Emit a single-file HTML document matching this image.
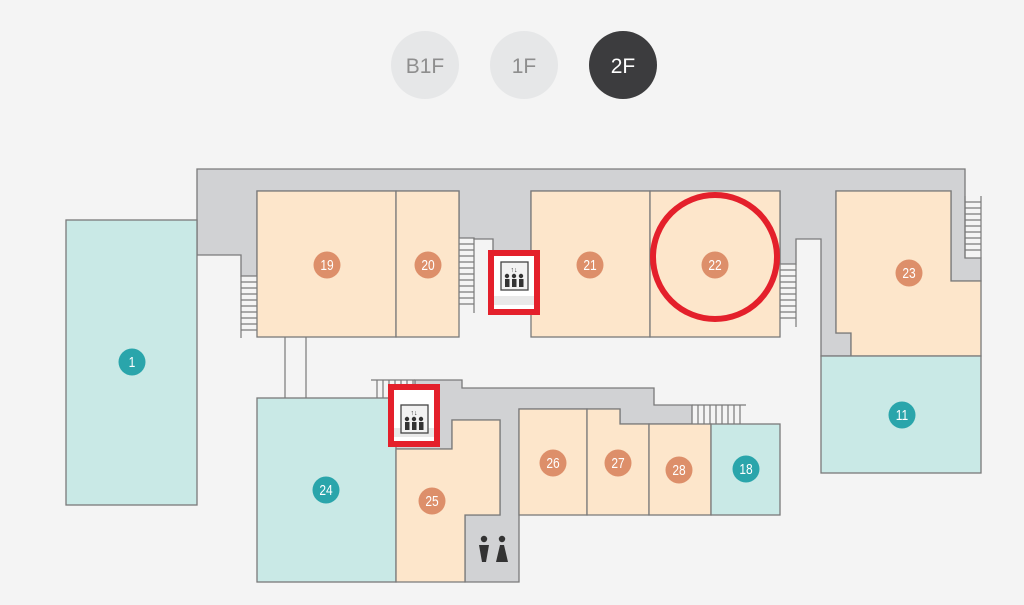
<!DOCTYPE html>
<html><head><meta charset="utf-8"><style>
html,body{margin:0;padding:0;background:#f4f4f4;width:1024px;height:605px;overflow:hidden}
svg{display:block}
text{font-family:"Liberation Sans",sans-serif}
</style></head><body>
<svg width="1024" height="605" viewBox="0 0 1024 605" xmlns="http://www.w3.org/2000/svg">
<rect width="1024" height="605" fill="#f4f4f4"/>
<circle cx="425" cy="65" r="34" fill="#e6e7e8"/>
<circle cx="524" cy="65" r="34" fill="#e6e7e8"/>
<circle cx="623" cy="65" r="34" fill="#3c3c3e"/>
<text x="425" y="73" font-size="21" fill="#8e8e8e" text-anchor="middle">B1F</text>
<text x="524" y="73" font-size="21" fill="#8e8e8e" text-anchor="middle">1F</text>
<text x="623" y="73" font-size="21" fill="#fff" text-anchor="middle">2F</text>

<g stroke="#7a7a7a" stroke-width="1.3">
<polygon points="197,169 965,169 965,258 981,258 981,281 951,281 951,191 836,191 836,333 851,333 851,356 821,356 821,239 796,239 796,264 780,264 780,191 531,191 531,300 493,300 493,239 474,239 474,238 459,238 459,191 257,191 257,276 241,276 241,255 197,255" fill="#d1d2d4"/>
<rect x="257" y="191" width="139" height="146" fill="#fde6cb"/>
<rect x="396" y="191" width="63" height="146" fill="#fde6cb"/>
<rect x="531" y="191" width="119" height="146" fill="#fde6cb"/>
<rect x="650" y="191" width="130" height="146" fill="#fde6cb"/>
<polygon points="836,191 951,191 951,281 981,281 981,356 851,356 851,333 836,333" fill="#fde6cb"/>
<rect x="821" y="356" width="160" height="117" fill="#c9e9e6"/>
<rect x="66" y="220" width="131" height="285" fill="#c9e9e6"/>
<polygon points="415,380 462,380 462,388 654,388 654,405 692,405 692,424 620,424 620,409 519,409 519,582 465,582 465,515 500,515 500,420 452,420 452,449 389,449 389,398 415,398" fill="#d1d2d4"/>
<rect x="257" y="398" width="139" height="184" fill="#c9e9e6"/>
<polygon points="396,449 452,449 452,420 500,420 500,515 465,515 465,582 396,582" fill="#fde6cb"/>
<rect x="519" y="409" width="68" height="106" fill="#fde6cb"/>
<polygon points="587,409 620,409 620,424 649,424 649,515 587,515" fill="#fde6cb"/>
<rect x="649" y="424" width="62" height="91" fill="#fde6cb"/>
<rect x="711" y="424" width="69" height="91" fill="#c9e9e6"/>
</g>
<g stroke="#7a7a7a" stroke-width="1.2" fill="none">
<line x1="285" y1="337" x2="285" y2="398"/><line x1="306" y1="337" x2="306" y2="398"/>
<line x1="241" y1="276" x2="241" y2="338"/>
<path d="M241 282h16M241 288h16M241 294h16M241 300h16M241 306h16M241 312h16M241 318h16M241 324h16M241 330h16"/>
<line x1="474" y1="238" x2="474" y2="313"/>
<path d="M459 244h15M459 250h15M459 256h15M459 262h15M459 268h15M459 274h15M459 280h15M459 286h15M459 292h15M459 298h15M459 304h15"/>
<line x1="796" y1="264" x2="796" y2="327"/>
<path d="M780 270h16M780 276h16M780 282h16M780 288h16M780 294h16M780 300h16M780 306h16M780 312h16M780 318h16"/>
<line x1="981" y1="196" x2="981" y2="258"/><line x1="965" y1="196" x2="965" y2="258"/>
<path d="M965 202h16M965 208h16M965 214h16M965 220h16M965 226h16M965 232h16M965 238h16M965 244h16M965 250h16"/>
<line x1="371" y1="380" x2="415" y2="380"/>
<path d="M377 380v18M383 380v18M389 380v18M395 380v18M401 380v18M407 380v18M413 380v18"/>
<line x1="692" y1="405" x2="746" y2="405"/>
<path d="M698 405v19M704 405v19M710 405v19M716 405v19M722 405v19M728 405v19M734 405v19M740 405v19"/>
</g>
<g>
<rect x="491" y="253" width="46" height="59" fill="#fff" stroke="#e4202b" stroke-width="6"/>
<rect x="494" y="296" width="40" height="9" fill="#e9e9e9"/>
<rect x="501" y="262" width="27" height="28" fill="#f2f2f2" stroke="#444" stroke-width="1.3"/>
<text x="514" y="272" font-size="7" fill="#333" text-anchor="middle">↑↓</text>
<g fill="#333"><circle cx="507" cy="276" r="2.2"/><circle cx="514" cy="276" r="2.2"/><circle cx="521" cy="276" r="2.2"/>
<rect x="505" y="279" width="4.5" height="8"/><rect x="512" y="279" width="4.5" height="8"/><rect x="519" y="279" width="4.5" height="8"/></g>
</g>
<g>
<rect x="391" y="387" width="46" height="57" fill="#fff" stroke="#e4202b" stroke-width="6"/>
<rect x="394" y="428" width="40" height="9" fill="#e9e9e9"/>
<rect x="401" y="405" width="27" height="28" fill="#f2f2f2" stroke="#444" stroke-width="1.3"/>
<text x="414" y="415" font-size="7" fill="#333" text-anchor="middle">↑↓</text>
<g fill="#333"><circle cx="407" cy="419" r="2.2"/><circle cx="414" cy="419" r="2.2"/><circle cx="421" cy="419" r="2.2"/>
<rect x="405" y="422" width="4.5" height="8"/><rect x="412" y="422" width="4.5" height="8"/><rect x="419" y="422" width="4.5" height="8"/></g>
</g>
<g fill="#333">
<circle cx="484" cy="539" r="3.2"/><polygon points="479,545 489,545 486,562 482,562"/>
<circle cx="502" cy="539" r="3.2"/><polygon points="500,545 504,545 508,562 496,562"/>
</g>
<circle cx="715" cy="257" r="62" fill="none" stroke="#e4202b" stroke-width="6"/>
<g font-size="15" fill="#fff" text-anchor="middle">
<g fill="#dd8f6a">
<circle cx="327" cy="265" r="13.5"/><circle cx="428" cy="265" r="13.5"/><circle cx="590" cy="265" r="13.5"/><circle cx="715" cy="265" r="13.5"/><circle cx="909" cy="273" r="13.5"/>
<circle cx="432" cy="501" r="13.5"/><circle cx="553" cy="463" r="13.5"/><circle cx="618" cy="463" r="13.5"/><circle cx="679" cy="470" r="13.5"/>
</g>
<g fill="#2aa5ab">
<circle cx="132" cy="362" r="13.5"/><circle cx="902" cy="415" r="13.5"/><circle cx="326" cy="490" r="13.5"/><circle cx="746" cy="469" r="13.5"/>
</g>
<g transform="scale(0.8,1)">
<text x="408.75" y="270">19</text><text x="535" y="270">20</text><text x="737.5" y="270">21</text><text x="893.75" y="270">22</text><text x="1136.25" y="278">23</text>
<text x="540" y="506">25</text><text x="691.25" y="468">26</text><text x="772.5" y="468">27</text><text x="848.75" y="475">28</text>
<text x="165" y="367">1</text><text x="1127.5" y="420">11</text><text x="407.5" y="495">24</text><text x="932.5" y="474">18</text>
</g>
</g>
</svg>
</body></html>
